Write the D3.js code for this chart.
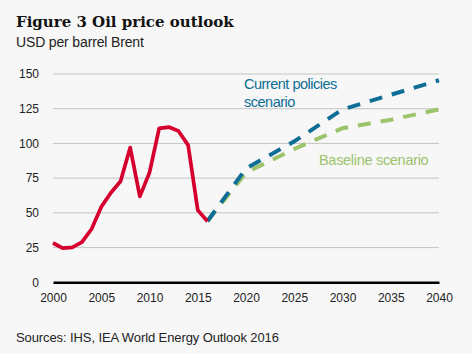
<!DOCTYPE html>
<html>
<head>
<meta charset="utf-8">
<script src="https://cdn.jsdelivr.net/npm/d3@7"></script>
<style>
  body { margin: 0; background: #f7f7f7; }
  svg { display: block; }
  text { font-family: "Liberation Sans", Arial, sans-serif; fill: #222; }
</style>
</head>
<body>
<div id="chart"></div>
<script>
// historical Brent and IEA scenarios, USD per barrel
var histYears = [2000, 2001, 2002, 2003, 2004, 2005, 2006, 2007, 2008, 2009, 2010, 2011, 2012, 2013, 2014, 2015, 2016]
var histPrice = [28.3, 24.6, 25.2, 28.9, 38.4, 54.3, 64.5, 72.8, 97.0, 61.9, 79.0, 110.9, 111.8, 109.0, 98.8, 52.0, 44.0]

var scenYears = [2016, 2020, 2025, 2030, 2035, 2040]
var currentPolicies = [44.0, 82.0, 101.5, 124.5, 135.0, 145.5]
var baseline = [44.0, 79.0, 96.0, 111.0, 117.0, 124.5]

var xTicks = [2000, 2005, 2010, 2015, 2020, 2025, 2030, 2035, 2040]
var yTicks = [0, 25, 50, 75, 100, 125, 150]

var W = 472, H = 354
var margin = {top: 74, right: 33, bottom: 72, left: 53}

var svg = d3.select('#chart').append('svg')
    .attr('width', W)
    .attr('height', H)

var x = d3.scaleLinear().domain([2000, 2040]).range([margin.left, W - margin.right])
var y = d3.scaleLinear().domain([0, 150]).range([H - margin.bottom + 0.3, margin.top])

// gridlines
svg.append('g')
    .selectAll('line')
    .data(yTicks.filter(d => d > 0))
    .enter()
    .append('line')
    .attr('x1', x(2000))
    .attr('x2', x(2040))
    .attr('y1', d => y(d))
    .attr('y2', d => y(d))
    .style('stroke', '#c4c4c4')
    .style('stroke-width', 1)

// y axis labels
var yAxis = d3.axisLeft(y).tickValues(yTicks).tickSize(0).tickPadding(14)
svg.append('g')
    .attr('transform', 'translate(' + x(2000) + ',0)')
    .call(yAxis)
    .call(g => g.select('.domain').remove())
    .selectAll('text')
    .style('font-size', '12px')
    .style('font-family', '"Liberation Sans", Arial, sans-serif')
    .style('fill', '#222')

// x axis
var xAxis = d3.axisBottom(x).tickValues(xTicks).tickFormat(d3.format('d')).tickSize(0).tickPadding(11)
svg.append('g')
    .attr('transform', 'translate(0,' + y(0) + ')')
    .call(xAxis)
    .call(g => g.select('.domain').style('stroke', '#000').style('stroke-width', 2.5))
    .selectAll('text')
    .style('font-size', '12px')
    .style('font-family', '"Liberation Sans", Arial, sans-serif')
    .style('fill', '#222')

var line = d3.line()
    .x(d => x(d[0]))
    .y(d => y(d[1]))

svg.append('path')
    .datum(d3.zip(scenYears, baseline))
    .attr('d', line)
    .style('fill', 'none')
    .style('stroke', '#9cc46b')
    .style('stroke-width', 4)
    .style('stroke-dasharray', '13,10')

svg.append('path')
    .datum(d3.zip(scenYears, currentPolicies))
    .attr('d', line)
    .style('fill', 'none')
    .style('stroke', '#0e6e95')
    .style('stroke-width', 4)
    .style('stroke-dasharray', '13,10')

svg.append('path')
    .datum(d3.zip(histYears, histPrice))
    .attr('d', line)
    .style('fill', 'none')
    .style('stroke', '#d6002e')
    .style('stroke-width', 3.7)
    .style('stroke-linejoin', 'round')

// series labels
var cp = svg.append('text')
    .attr('x', 244)
    .attr('y', 89)
    .style('font-size', '14.5px')
    .style('letter-spacing', '-0.5px')
    .style('fill', '#0e6e95')
cp.append('tspan').attr('x', 244).text('Current policies')
cp.append('tspan').attr('x', 244).attr('dy', 17.5).text('scenario')

svg.append('text')
    .attr('x', 319)
    .attr('y', 164.5)
    .style('font-size', '14.5px')
    .style('letter-spacing', '-0.3px')
    .style('fill', '#9cc46b')
    .text('Baseline scenario')

// titles
svg.append('text')
    .attr('x', 16)
    .attr('y', 27)
    .style('font-family', '"DejaVu Serif", Georgia, serif')
    .style('font-size', '15px')
    .style('font-weight', 'bold')
    .style('fill', '#111')
    .text('Figure 3 Oil price outlook')

svg.append('text')
    .attr('x', 16)
    .attr('y', 47)
    .style('font-size', '14px')
    .style('letter-spacing', '-0.15px')
    .text('USD per barrel Brent')

svg.append('text')
    .attr('x', 16)
    .attr('y', 342)
    .style('font-size', '13px')
    .style('letter-spacing', '-0.1px')
    .text('Sources: IHS, IEA World Energy Outlook 2016')
</script>
</body>
</html>
